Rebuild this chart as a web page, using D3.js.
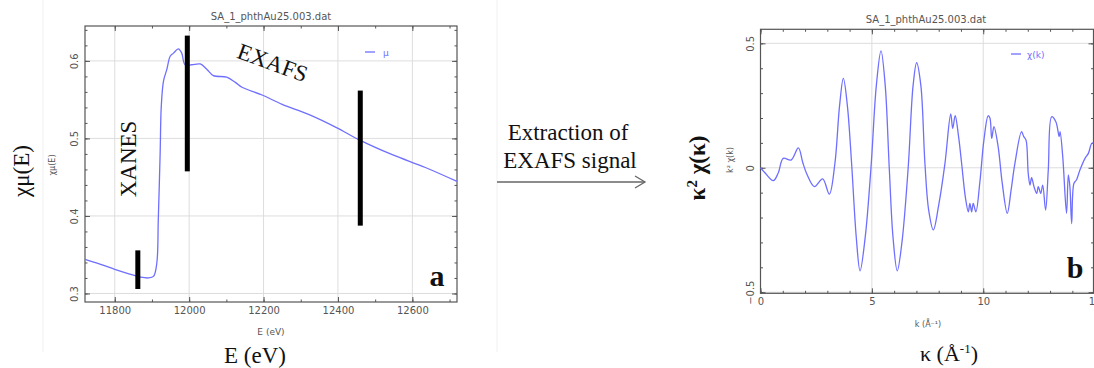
<!DOCTYPE html>
<html>
<head>
<meta charset="utf-8">
<title>XANES / EXAFS</title>
<script src="https://d3js.org/d3.v7.min.js"></script>
<style>
  body { margin: 0; background: #fff; }
  svg { display: block; }
  .tick text { font-family: "DejaVu Sans", sans-serif; font-size: 10px; fill: #555; }
  .tick line { stroke: #555; }
  .domain { stroke: #555; stroke-width: 1.2; }
  .grid line { stroke: #ddd; stroke-width: 1; }
  .serif { font-family: "Liberation Serif", "Times New Roman", serif; fill: #111; }
  .small { font-family: "DejaVu Sans", sans-serif; font-size: 9px; fill: #555; }
</style>
</head>
<body>
<svg id="svg" width="1094" height="368"></svg>
<script>
// ---- panel a : mu(E) ----
var energy = [11720, 11760, 11800, 11840, 11870, 11890, 11904, 11913, 11917, 11922, 11925, 11931, 11940, 11949, 11958, 11971, 11980, 11989, 12007, 12030, 12048, 12065, 12101, 12125, 12142, 12196, 12250, 12321, 12396, 12456, 12546, 12635, 12720];
var mu = [0.344, 0.338, 0.331, 0.325, 0.321, 0.320, 0.322, 0.339, 0.395, 0.481, 0.541, 0.574, 0.589, 0.606, 0.610, 0.6155, 0.610, 0.595, 0.595, 0.596, 0.589, 0.581, 0.579, 0.572, 0.566, 0.556, 0.544, 0.531, 0.514, 0.4985, 0.479, 0.4625, 0.4445];
var eTicks = [11800, 12000, 12200, 12400, 12600];
var muTicks = [0.3, 0.4, 0.5, 0.6];
// black region markers (energy, top, bottom)
var markE = [11862, 11995, 12460];
var markTop = [0.3556, 0.6326, 0.5617];
var markBottom = [0.3058, 0.4575, 0.3875];

// ---- panel b : k^2 chi(k) ----
var kVals = [0, 0.2, 0.575, 0.8, 1.02, 1.37, 1.70, 1.9, 2.07, 2.42, 2.79, 3.09, 3.34, 3.55, 3.72, 3.9, 4.09, 4.3, 4.47, 4.7, 4.96, 5.2, 5.41, 5.6, 5.78, 5.95, 6.14, 6.35, 6.63, 6.85, 7.01, 7.2, 7.38, 7.55, 7.76, 8.0, 8.28, 8.54, 8.63, 8.74, 8.9, 9.03, 9.2, 9.33, 9.4, 9.48, 9.55, 9.67, 9.85, 10.03, 10.22, 10.3, 10.38, 10.48, 10.67, 10.85, 11.08, 11.25, 11.42, 11.72, 11.82, 11.92, 12.02, 12.1, 12.17, 12.28, 12.40, 12.47, 12.58, 12.67, 12.8, 12.92, 13.07, 13.26, 13.41, 13.45, 13.57, 13.74, 13.82, 13.89, 13.97, 14.07, 14.19, 14.34, 14.57, 14.72, 14.87, 14.95];
var chiVals = [0, -0.02, -0.052, -0.02, 0.038, 0.031, 0.080, 0.02, -0.023, -0.076, -0.045, -0.106, 0.017, 0.25, 0.359, 0.25, 0.017, -0.28, -0.414, -0.28, 0, 0.33, 0.47, 0.33, 0, -0.28, -0.414, -0.3, 0, 0.33, 0.422, 0.33, 0.02, -0.17, -0.25, -0.15, 0.017, 0.216, 0.158, 0.209, 0.12, 0.017, -0.12, -0.177, -0.143, -0.177, -0.143, -0.177, -0.056, 0.111, 0.209, 0.2, 0.118, 0.165, 0.084, -0.06, -0.183, -0.09, 0.017, 0.145, 0.125, 0.111, -0.023, -0.07, -0.04, -0.076, -0.103, -0.076, -0.103, -0.07, -0.170, -0.009, 0.205, 0.185, 0.125, 0.145, 0.044, -0.183, -0.029, -0.076, -0.224, -0.063, -0.048, -0.009, 0.038, 0.058, 0.098, 0.1];
var kTicks = [0, 5, 10, 15];
var chiTicks = [-0.5, 0, 0.5];

var svg = d3.select('#svg');
var blue = '#6f6fff';

// faint edges of the pasted plot images
svg.append('line').attr('x1', 43).attr('x2', 43).attr('y1', 0).attr('y2', 352).style('stroke', '#f0f0f0');
svg.append('line').attr('x1', 497).attr('x2', 497).attr('y1', 0).attr('y2', 352).style('stroke', '#f0f0f0');

function drawFrame(x, y, majX, minX, majY, minY, fmtY) {
  var x0 = x.range()[0], x1 = x.range()[1];
  var y0 = y.range()[0], y1 = y.range()[1];
  var g = svg.append('g');
  // grid
  var grid = g.append('g').attr('class', 'grid');
  grid.selectAll('.gx').data(majX.filter(function(d) { return x(d) > x0 + 1 && x(d) < x1 - 1; }))
    .enter().append('line').attr('x1', x).attr('x2', x).attr('y1', y0).attr('y2', y1);
  grid.selectAll('.gy').data(majY.filter(function(d) { return y(d) < y0 - 1 && y(d) > y1 + 1; }))
    .enter().append('line').attr('y1', y).attr('y2', y).attr('x1', x0).attr('x2', x1);

  // minor ticks on all sides
  g.append('g').attr('transform', 'translate(0,' + y0 + ')')
    .call(d3.axisBottom(x).tickValues(minX).tickSize(-2.5).tickFormat(''));
  g.append('g').attr('transform', 'translate(0,' + y1 + ')')
    .call(d3.axisTop(x).tickValues(minX).tickSize(-2.5).tickFormat(''));
  g.append('g').attr('transform', 'translate(' + x0 + ',0)')
    .call(d3.axisLeft(y).tickValues(minY).tickSize(-2.5).tickFormat(''));
  g.append('g').attr('transform', 'translate(' + x1 + ',0)')
    .call(d3.axisRight(y).tickValues(minY).tickSize(-2.5).tickFormat(''));

  // major ticks + labels
  g.append('g').attr('transform', 'translate(0,' + y0 + ')')
    .call(d3.axisBottom(x).tickValues(majX).tickSize(-5).tickPadding(5).tickFormat(d3.format('d')));
  g.append('g').attr('transform', 'translate(0,' + y1 + ')')
    .call(d3.axisTop(x).tickValues(majX).tickSize(-5).tickFormat(''));
  var ly = g.append('g').attr('transform', 'translate(' + x0 + ',0)')
    .call(d3.axisLeft(y).tickValues(majY).tickSize(-5).tickFormat(fmtY));
  ly.selectAll('text')
    .attr('x', null).attr('dy', null)
    .attr('text-anchor', 'middle')
    .attr('dominant-baseline', 'middle')
    .attr('transform', 'translate(-10,0) rotate(-90)');
  g.append('g').attr('transform', 'translate(' + x1 + ',0)')
    .call(d3.axisRight(y).tickValues(majY).tickSize(-5).tickFormat(''));
  g.selectAll('.domain').remove();
  g.append('rect').attr('x', x0).attr('y', y1).attr('width', x1 - x0).attr('height', y0 - y1)
    .style('fill', 'none').style('stroke', '#555').style('stroke-width', 1.2);
}

// ===== panel a =====
var xA = d3.scaleLinear().domain([11720, 12720]).range([85, 457]);
var yA = d3.scaleLinear().domain([0.289, 0.645]).range([302, 26]);
drawFrame(xA, yA, eTicks, d3.range(11800, 12701, 100), muTicks, d3.range(0.30, 0.641, 0.02),
  function(d) { return d3.format('.1f')(d); });

var lineA = d3.line().x(function(d) { return xA(d[0]); }).y(function(d) { return yA(d[1]); })
  .curve(d3.curveCatmullRom.alpha(0.5));
svg.append('path').datum(d3.zip(energy, mu)).attr('d', lineA)
  .style('fill', 'none').style('stroke', blue).style('stroke-width', 1.3);

svg.selectAll('.markA').data(markE).enter().append('rect')
  .attr('x', function(d) { return xA(d) - 2.5; })
  .attr('width', 5)
  .attr('y', function(d, i) { return yA(markTop[i]); })
  .attr('height', function(d, i) { return yA(markBottom[i]) - yA(markTop[i]); })
  .style('fill', '#000');

svg.append('text').attr('class', 'small').attr('x', 271).attr('y', 20)
  .attr('text-anchor', 'middle').style('font-size', '10px').text('SA_1_phthAu25.003.dat');
svg.append('text').attr('class', 'small').attr('x', 271).attr('y', 335)
  .attr('text-anchor', 'middle').text('E (eV)');
svg.append('text').attr('class', 'small').attr('transform', 'translate(55,165) rotate(-90)')
  .attr('text-anchor', 'middle').style('font-size', '8px').text('χμ(E)');
// legend
svg.append('line').attr('x1', 365).attr('x2', 375).attr('y1', 52).attr('y2', 52)
  .style('stroke', blue).style('stroke-width', 1.3);
svg.append('text').attr('x', 383).attr('y', 56).style('font-family', 'DejaVu Sans')
  .style('font-size', '9px').style('fill', blue).text('μ');

svg.append('text').attr('class', 'serif').attr('transform', 'translate(29,171) rotate(-90)')
  .attr('text-anchor', 'middle').style('font-size', '23px').text('χμ(E)');
svg.append('text').attr('class', 'serif').attr('x', 255).attr('y', 363)
  .attr('text-anchor', 'middle').style('font-size', '23px').text('E (eV)');
svg.append('text').attr('class', 'serif').attr('transform', 'translate(136,159) rotate(-90)')
  .attr('text-anchor', 'middle').style('font-size', '23px').text('XANES');
svg.append('text').attr('class', 'serif').attr('transform', 'translate(270,70) rotate(20)')
  .attr('text-anchor', 'middle').style('font-size', '23px').text('EXAFS');
svg.append('text').attr('class', 'serif').attr('x', 437).attr('y', 286)
  .attr('text-anchor', 'middle').style('font-size', '30px').style('font-weight', 'bold').text('a');

// ===== middle =====
svg.append('text').attr('class', 'serif').attr('x', 568).attr('y', 140)
  .attr('text-anchor', 'middle').style('font-size', '23px').text('Extraction of');
svg.append('text').attr('class', 'serif').attr('x', 570).attr('y', 168)
  .attr('text-anchor', 'middle').style('font-size', '23px').text('EXAFS signal');
svg.append('line').attr('x1', 497).attr('x2', 645).attr('y1', 182).attr('y2', 182)
  .style('stroke', '#666').style('stroke-width', 1.5);
svg.append('path').attr('d', 'M635,176 L645,182 L635,188')
  .style('fill', 'none').style('stroke', '#666').style('stroke-width', 1.3);

// ===== panel b =====
var xB = d3.scaleLinear().domain([0, 14.95]).range([760.5, 1093.5]);
var yB = d3.scaleLinear().domain([-0.5045, 0.5565]).range([293.3, 29.3]);
drawFrame(xB, yB, kTicks, d3.range(0, 15, 1), chiTicks, d3.range(-0.5, 0.51, 0.1),
  function(d) { return d === 0 ? '0' : d3.format('.1f')(d).replace('-', '\u2212'); });

var lineB = d3.line().x(function(d) { return xB(d[0]); }).y(function(d) { return yB(d[1]); })
  .curve(d3.curveCatmullRom.alpha(0.5));
svg.append('path').datum(d3.zip(kVals, chiVals)).attr('d', lineB)
  .style('fill', 'none').style('stroke', blue).style('stroke-width', 1.3);

svg.append('text').attr('class', 'small').attr('x', 926).attr('y', 23)
  .attr('text-anchor', 'middle').style('font-size', '10px').text('SA_1_phthAu25.003.dat');
svg.append('text').attr('class', 'small').attr('x', 928).attr('y', 327)
  .attr('text-anchor', 'middle').style('font-size', '8px').text('k (Å\u207B\u00B9)');
svg.append('text').attr('class', 'small').attr('transform', 'translate(733,160) rotate(-90)')
  .attr('text-anchor', 'middle').style('font-size', '8px').text('k\u00B2 χ(k)');
svg.append('line').attr('x1', 1011).attr('x2', 1021).attr('y1', 54).attr('y2', 54)
  .style('stroke', blue).style('stroke-width', 1.3);
svg.append('text').attr('x', 1027).attr('y', 58).style('font-family', 'DejaVu Sans')
  .style('font-size', '9px').style('fill', blue).text('χ(k)');

svg.append('text').attr('class', 'serif').attr('transform', 'translate(705,168) rotate(-90)')
  .attr('text-anchor', 'middle').style('font-size', '23px').style('font-weight', 'bold')
  .html('κ<tspan dy="-8" font-size="15">2</tspan><tspan dy="8"> χ(κ)</tspan>');
svg.append('text').attr('class', 'serif').attr('x', 949).attr('y', 361)
  .attr('text-anchor', 'middle').style('font-size', '22px')
  .html('κ (Å<tspan dy="-8" font-size="13">-1</tspan><tspan dy="8">)</tspan>');
svg.append('text').attr('class', 'serif').attr('x', 1075).attr('y', 278)
  .attr('text-anchor', 'middle').style('font-size', '30px').style('font-weight', 'bold').text('b');
</script>
</body>
</html>
